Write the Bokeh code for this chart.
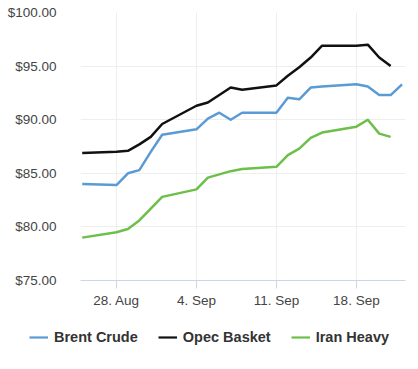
import datetime as dt
from bokeh.plotting import figure
from bokeh.layouts import column, row
from bokeh.models import FixedTicker, NumeralTickFormatter, Range1d, Legend, LegendItem, ColumnDataSource
from bokeh.embed import file_html
from bokeh.resources import INLINE

dates = ["2023-08-25", "2023-08-28", "2023-08-29", "2023-08-30", "2023-08-31", "2023-09-01",
         "2023-09-04", "2023-09-05", "2023-09-06", "2023-09-07", "2023-09-08",
         "2023-09-11", "2023-09-12", "2023-09-13", "2023-09-14", "2023-09-15",
         "2023-09-18", "2023-09-19", "2023-09-20", "2023-09-21", "2023-09-22"]
brent = [84.0, 83.9, 85.0, 85.3, 87.0, 88.6, 89.1, 90.1, 90.65, 90.0, 90.65,
         90.65, 92.05, 91.9, 93.0, 93.1, 93.3, 93.1, 92.3, 92.3, 93.3]
opec = [86.9, 87.0, 87.1, 87.7, 88.4, 89.6, 91.3, 91.6, 92.3, 93.0, 92.8,
        93.2, 94.1, 94.9, 95.8, 96.9, 96.9, 97.0, 95.8, 95.0]
iran = [79.0, 79.5, 79.8, 80.6, 81.7, 82.8, 83.5, 84.6, 84.9, 85.2, 85.4,
        85.6, 86.7, 87.3, 88.3, 88.8, 89.35, 90.0, 88.7, 88.4]
series_names = ["Brent Crude", "Opec Basket", "Iran Heavy"]
tick_dates = ["2023-08-28", "2023-09-04", "2023-09-11", "2023-09-18"]
tick_labels = ["28. Aug", "4. Sep", "11. Sep", "18. Sep"]
y_ticks = [75, 80, 85, 90, 95, 100]

def ms(s):
    d = dt.datetime.strptime(s, "%Y-%m-%d").replace(tzinfo=dt.timezone.utc)
    return d.timestamp() * 1000.0

DAY = 86400000.0
x_all = [ms(d) for d in dates]
tick_ms = [ms(d) for d in tick_dates]

p = figure(width=418, height=310, x_axis_type="datetime", output_backend="svg",
           toolbar_location=None, min_border_left=80, min_border_right=13,
           min_border_top=12, min_border_bottom=30,
           x_range=Range1d(tick_ms[0] - 3.15 * DAY, tick_ms[0] + 25.3 * DAY),
           y_range=Range1d(75, 100))
p.outline_line_color = None
p.background_fill_color = "white"
p.border_fill_color = "white"

colors = ["#5b9bd5", "#111111", "#6cc04a"]
for name, vals, c in zip(series_names, [brent, opec, iran], colors):
    src = ColumnDataSource(dict(x=x_all[:len(vals)], y=vals))
    p.line("x", "y", source=src, line_color=c, line_width=2.5, line_join="round")

p.xaxis.ticker = FixedTicker(ticks=tick_ms)
p.xaxis.major_label_overrides = {t: l for t, l in zip(tick_ms, tick_labels)}
p.xaxis.axis_line_color = "#ccd6eb"
p.xaxis.major_tick_line_color = "#ccd6eb"
p.xaxis.major_tick_out = 8
p.xaxis.major_tick_in = 0
p.xaxis.minor_tick_line_color = None
p.xaxis.major_label_text_font = "Liberation Sans"
p.xaxis.major_label_text_font_size = "13.5px"
p.xaxis.major_label_text_color = "#444444"
p.xaxis.major_label_standoff = 4

p.yaxis.ticker = FixedTicker(ticks=y_ticks)
p.yaxis.formatter = NumeralTickFormatter(format="$0.00")
p.yaxis.axis_line_color = None
p.yaxis.major_tick_line_color = None
p.yaxis.minor_tick_line_color = None
p.yaxis.major_label_text_font = "Liberation Sans"
p.yaxis.major_label_text_font_size = "13.5px"
p.yaxis.major_label_text_color = "#444444"
p.yaxis.major_label_standoff = 18

p.xgrid.grid_line_color = "#eeeeee"
p.ygrid.grid_line_color = "#eeeeee"

# legend strip
lf = figure(width=418, height=59, output_backend="svg", toolbar_location=None,
            min_border=0, x_range=Range1d(0, 1), y_range=Range1d(0, 1),
            x_axis_location=None, y_axis_location=None)
lf.grid.visible = False
lf.outline_line_color = None
items = []
for name, c in zip(series_names, colors):
    r = lf.line(x=[float("nan")], y=[float("nan")], line_color=c, line_width=2.2)
    items.append(LegendItem(label=name, renderers=[r]))
legend = Legend(items=items, orientation="horizontal", location=(29, 24),
                label_text_font="Liberation Sans", label_text_font_size="14.5px",
                label_text_font_style="bold", label_text_color="#333333",
                glyph_width=19, glyph_height=16, label_standoff=6, spacing=20,
                border_line_color=None, background_fill_alpha=0,
                margin=0, padding=0)
lf.add_layout(legend, "center")

layout = column(p, row(lf), spacing=0)
open("out.html", "w").write(file_html(layout, INLINE))
